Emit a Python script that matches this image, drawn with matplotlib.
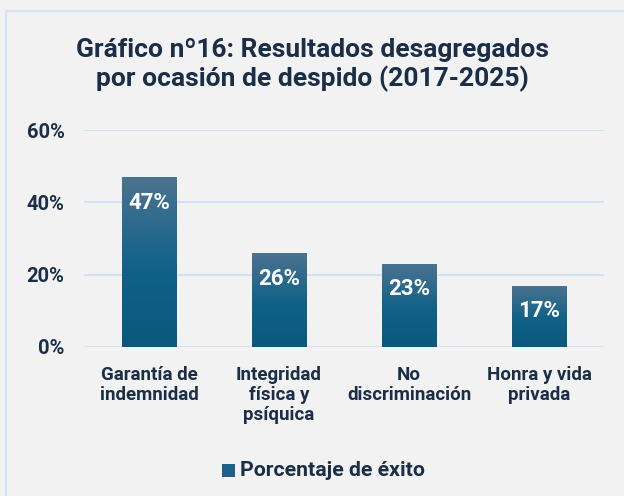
import numpy as np
import matplotlib.pyplot as plt
from matplotlib.patches import Rectangle
from matplotlib.colors import LinearSegmentedColormap

categories = ['Garantía de\nindemnidad', 'Integridad\nfísica y\npsíquica',
              'No\ndiscriminación', 'Honra y vida\nprivada']
values = [0.47, 0.26, 0.23, 0.17]
labels = ['47%', '26%', '23%', '17%']
yticks = [0, 0.2, 0.4, 0.6]
ytick_labels = ['0%', '20%', '40%', '60%']

plt.rcParams['font.family'] = ['Roboto', 'DejaVu Sans']
text_col = '#1B2E47'
bg = '#F2F2F2'

fig = plt.figure(figsize=(6.24, 4.96), dpi=100, facecolor=bg)
# outer chart border
fig.patches.append(Rectangle((6 / 624, -0.01), 1.0, 1 - 11 / 496 + 0.01,
                             transform=fig.transFigure, fill=False,
                             edgecolor='#D4E3F5', lw=1.5))

ax = fig.add_axes([84 / 624, 149 / 496, 520 / 624, 217 / 496])
ax.set_facecolor(bg)

for s in ax.spines.values():
    s.set_visible(False)
ax.set_yticks(yticks)
ax.set_yticklabels(ytick_labels, fontsize=14.5, fontweight='bold', color=text_col)
ax.tick_params(axis='y', length=0, pad=14)
ax.tick_params(axis='x', length=0, pad=14)
ax.yaxis.grid(True, color='#D1E2F5', lw=1.5)
ax.set_axisbelow(True)

cmap = LinearSegmentedColormap.from_list(
    'g', [(0, '#0B587C'), (0.45, '#106188'), (1, '#4B7390')])
grad = np.linspace(0, 1, 256).reshape(-1, 1)

width = 0.42
bars = ax.bar(range(len(values)), values, width=width, color='none')
for b, lab in zip(bars, labels):
    x0, h = b.get_x(), b.get_height()
    im = ax.imshow(grad, cmap=cmap, origin='lower', aspect='auto',
                   extent=[x0, x0 + width, 0, h], zorder=2)
    im.set_clip_path(b)
    ax.text(x0 + width / 2, h - 0.071, lab, ha='center', va='center',
            color='white', fontsize=16, fontweight='bold', zorder=3)
ax.set_xlim(-0.5, 3.5)
ax.set_ylim(0, 0.6)

ax.set_xticks(range(len(categories)))
ax.set_xticklabels(categories, fontsize=13.5, fontweight='bold',
                   color=text_col, linespacing=1.12, va='top')

fig.text(0.5, 1 - 65 / 496, 'Gráfico nº16: Resultados desagregados\npor ocasión de despido (2017-2025)',
         ha='center', va='center', fontsize=19, fontweight='bold',
         color=text_col, linespacing=1.2)

# legend
fig.patches.append(Rectangle((222 / 624, 19 / 496), 13 / 624, 13 / 496,
                             transform=fig.transFigure, facecolor='#1E6088',
                             edgecolor='none'))
fig.text(240 / 624, (496 - 470) / 496, 'Porcentaje de éxito', ha='left', va='center',
         fontsize=15.3, fontweight='bold', color=text_col)

fig.savefig('out.png', dpi=100, facecolor=bg)
